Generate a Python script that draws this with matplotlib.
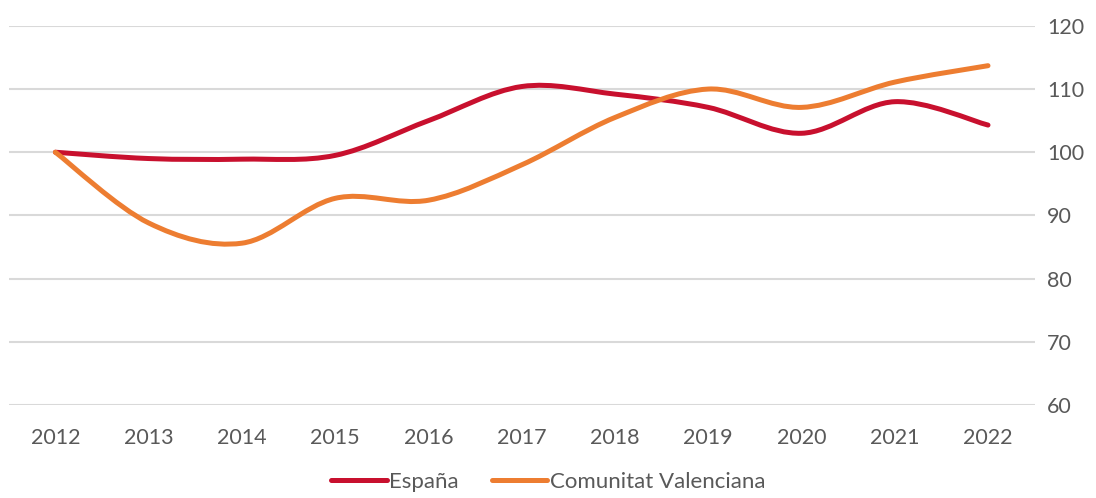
import matplotlib.pyplot as plt
from matplotlib.path import Path
from matplotlib.patches import PathPatch
from matplotlib.lines import Line2D
import numpy as np

years = ["2012", "2013", "2014", "2015", "2016", "2017", "2018", "2019", "2020", "2021", "2022"]
espana = [100, 99.0, 98.9, 99.5, 105.0, 110.4, 109.2, 107.1, 103.0, 108.0, 104.3]
valenciana = [100, 88.8, 85.6, 92.7, 92.4, 98.0, 105.5, 110.0, 107.1, 111.1, 113.7]

red = "#C8102E"
orange = "#ED7D31"
grey = "#595959"

plt.rcParams['font.family'] = ['Lato', 'DejaVu Sans']


def smooth_path(x, y, t=1/6):
    # bezier segments like the spreadsheet "smoothed line"
    x = np.asarray(x, float)
    y = np.asarray(y, float)
    n = len(x)
    verts = [(x[0], y[0])]
    codes = [Path.MOVETO]
    for i in range(n - 1):
        x0, y0 = (x[i - 1], y[i - 1]) if i > 0 else (x[i], y[i])
        x3, y3 = (x[i + 2], y[i + 2]) if i + 2 < n else (x[i + 1], y[i + 1])
        c1 = (x[i] + (x[i + 1] - x0) * t, y[i] + (y[i + 1] - y0) * t)
        c2 = (x[i + 1] - (x3 - x[i]) * t, y[i + 1] - (y3 - y[i]) * t)
        verts += [c1, c2, (x[i + 1], y[i + 1])]
        codes += [Path.CURVE4] * 3
    return Path(verts, codes)


fig = plt.figure(figsize=(10.96, 4.98), dpi=100)
ax = fig.add_axes([0.008, 0.187, 0.936, 0.761])

xs = np.arange(len(years))
for vals, col in [(espana, red), (valenciana, orange)]:
    ax.add_patch(PathPatch(smooth_path(xs, vals), fill=False, edgecolor=col,
                           lw=3.6, capstyle='round', joinstyle='round', zorder=3))

ax.set_xlim(-0.5, len(years) - 0.5)
ax.set_ylim(60, 120)
ax.set_yticks(range(60, 121, 10))
ax.set_xticks(xs)
ax.set_xticklabels(years)
ax.yaxis.tick_right()
ax.grid(axis='y', color='#D9D9D9', lw=1.5)
ax.set_axisbelow(True)
for s in ax.spines.values():
    s.set_visible(False)
ax.tick_params(length=0, labelsize=15.5, colors=grey)
ax.tick_params(axis='y', pad=9)
ax.tick_params(axis='x', pad=17)

handles = [Line2D([], [], color=red, lw=3.6, solid_capstyle='round'),
           Line2D([], [], color=orange, lw=3.6, solid_capstyle='round')]
fig.legend(handles, ["España", "Comunitat Valenciana"], loc='lower center',
           bbox_to_anchor=(0.5, -0.028), ncol=2, frameon=False, fontsize=16,
           labelcolor=grey, handlelength=2.5, handletextpad=0.1, columnspacing=1.5)

fig.savefig("out.png", dpi=100)
